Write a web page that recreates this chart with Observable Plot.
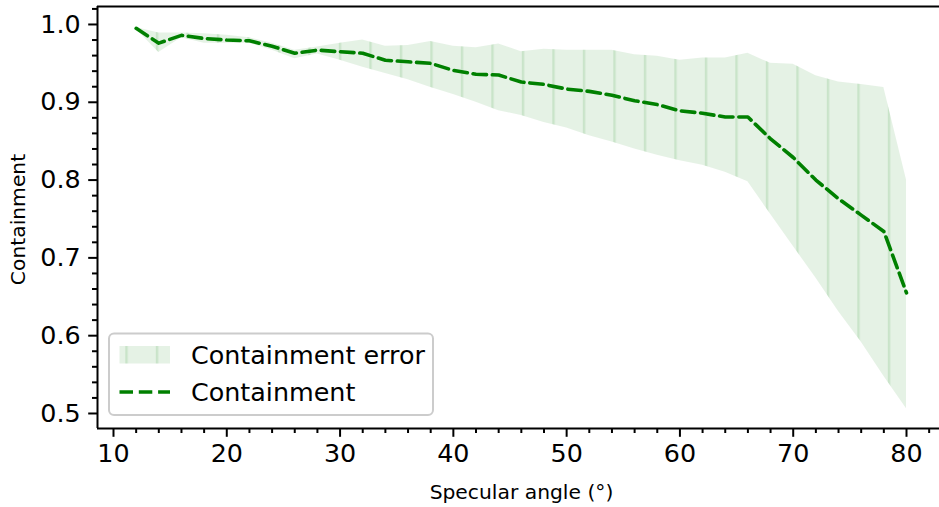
<!DOCTYPE html>
<html>
<head>
<meta charset="utf-8">
<script src="https://cdn.jsdelivr.net/npm/d3@7"></script>
<script src="https://cdn.jsdelivr.net/npm/@observablehq/plot@0.6"></script>
<style>
  html, body { margin: 0; padding: 0; background: #fff; }
  #chart svg { font-family: "DejaVu Sans", sans-serif; display: block; }
</style>
</head>
<body>
<div id="chart"></div>
<script>
const angles = [12,14,16,18,20,22,24,26,28,30,32,34,36,38,40,42,44,46,48,50,52,54,56,58,60,62,64,66,68,70,72,74,76,78,80];
const containment = [0.995,0.976,0.986,0.982,0.980,0.979,0.972,0.963,0.967,0.965,0.963,0.954,0.952,0.950,0.941,0.936,0.935,0.926,0.923,0.917,0.914,0.909,0.902,0.897,0.889,0.886,0.881,0.881,0.853,0.829,0.800,0.776,0.755,0.734,0.655];
const upper = [0.996,0.989,0.989,0.988,0.986,0.983,0.976,0.967,0.971,0.976,0.980,0.972,0.973,0.978,0.972,0.970,0.975,0.965,0.968,0.967,0.967,0.967,0.961,0.959,0.954,0.957,0.957,0.963,0.950,0.949,0.934,0.926,0.923,0.919,0.800];
const lower = [0.994,0.964,0.983,0.976,0.976,0.976,0.967,0.956,0.962,0.954,0.945,0.937,0.929,0.919,0.910,0.900,0.889,0.883,0.874,0.867,0.857,0.849,0.840,0.832,0.825,0.819,0.810,0.798,0.756,0.715,0.674,0.631,0.592,0.548,0.506];

const xMajor = [10,20,30,40,50,60,70,80];
const xMinor = [12,14,16,18,22,24,26,28,32,34,36,38,42,44,46,48,52,54,56,58,62,64,66,68,72,74,76,78,82];
const yMajor = [0.5,0.6,0.7,0.8,0.9,1.0];
const yMinor = [0.52,0.54,0.56,0.58,0.62,0.64,0.66,0.68,0.72,0.74,0.76,0.78,0.82,0.84,0.86,0.88,0.92,0.94,0.96,0.98,1.02];

const xLabel = "Specular angle (°)";
const yLabel = "Containment";
const legendLabels = ["Containment error", "Containment"];

const data = angles.map((a, i) => ({angle: a, c: containment[i], lo: lower[i], hi: upper[i]}));

const xDomain = [8.588, 82.913];
const yDomain = [0.4807, 1.0231];
const green = "green";
const dash = "13.5,5.8";

const svg = Plot.plot({
  width: 939,
  height: 507,
  marginLeft: 97,
  marginRight: 0,
  marginTop: 6,
  marginBottom: 79,
  style: {fontFamily: "DejaVu Sans, sans-serif", background: "white", color: "black"},
  x: {domain: xDomain},
  y: {domain: yDomain},
  marks: [
    Plot.areaY(data, {x: "angle", y1: "lo", y2: "hi", fill: green, fillOpacity: 0.1}),
    Plot.areaY(data, {x: "angle", y1: "lo", y2: "hi", fill: "url(#hatchV)"}),
    Plot.lineY(data, {x: "angle", y: "c", stroke: green, strokeWidth: 3.6, strokeDasharray: dash}),
    Plot.ruleX([xDomain[0]], {stroke: "black", strokeWidth: 2}),
    Plot.ruleY([yDomain[0], yDomain[1]], {stroke: "black", strokeWidth: 2}),
    Plot.axisX({ticks: xMajor, tickSize: 8.8, tickPadding: 7, fontSize: 25.4, strokeWidth: 2, tickFormat: d => String(d), label: null}),
    Plot.axisX({ticks: xMinor, tickSize: 5, strokeWidth: 2, tickFormat: () => "", label: null}),
    Plot.axisY({ticks: yMajor, tickSize: 8.8, tickPadding: 8, fontSize: 25.4, strokeWidth: 2, tickFormat: d3.format(".1f"), label: null}),
    Plot.axisY({ticks: yMinor, tickSize: 5, strokeWidth: 2, tickFormat: () => "", label: null}),
    Plot.text([xLabel], {frameAnchor: "bottom", dx: 3, dy: 70, lineAnchor: "bottom", textAnchor: "middle", fontSize: 20.3}),
    Plot.text([yLabel], {frameAnchor: "left", dx: -79, dy: 2, rotate: -90, lineAnchor: "middle", textAnchor: "middle", fontSize: 20.3})
  ]
});

// hatch pattern (vertical lines)
const s = d3.select(svg);
const defs = s.insert("defs", ":first-child");
const pat = defs.append("pattern")
  .attr("id", "hatchV")
  .attr("patternUnits", "userSpaceOnUse")
  .attr("x", 3.3).attr("y", 0)
  .attr("width", 30.5).attr("height", 20);
pat.append("rect").attr("x", 0).attr("y", 0).attr("width", 2.4).attr("height", 20)
  .attr("fill", green).attr("fill-opacity", 0.12);

// legend
const lg = s.append("g").attr("font-family", "DejaVu Sans, sans-serif").attr("font-size", 25.4)
  .attr("text-anchor", "start");
lg.append("rect").attr("x", 109).attr("y", 333.5).attr("width", 324).attr("height", 81.5)
  .attr("rx", 5).attr("fill", "white").attr("fill-opacity", 0.8)
  .attr("stroke", "#cccccc").attr("stroke-width", 2);
lg.append("rect").attr("x", 119.5).attr("y", 346).attr("width", 50.5).attr("height", 17.5)
  .attr("fill", green).attr("fill-opacity", 0.1);
lg.append("rect").attr("x", 119.5).attr("y", 346).attr("width", 50.5).attr("height", 17.5)
  .attr("fill", "url(#hatchV)");
lg.append("line").attr("x1", 119.5).attr("x2", 170).attr("y1", 392).attr("y2", 392)
  .attr("stroke", green).attr("stroke-width", 3.6).attr("stroke-dasharray", dash);
lg.append("text").attr("x", 191).attr("y", 363.5).attr("fill", "black").text(legendLabels[0]);
lg.append("text").attr("x", 191).attr("y", 401).attr("fill", "black").text(legendLabels[1]);

document.getElementById("chart").append(svg);
</script>
</body>
</html>
